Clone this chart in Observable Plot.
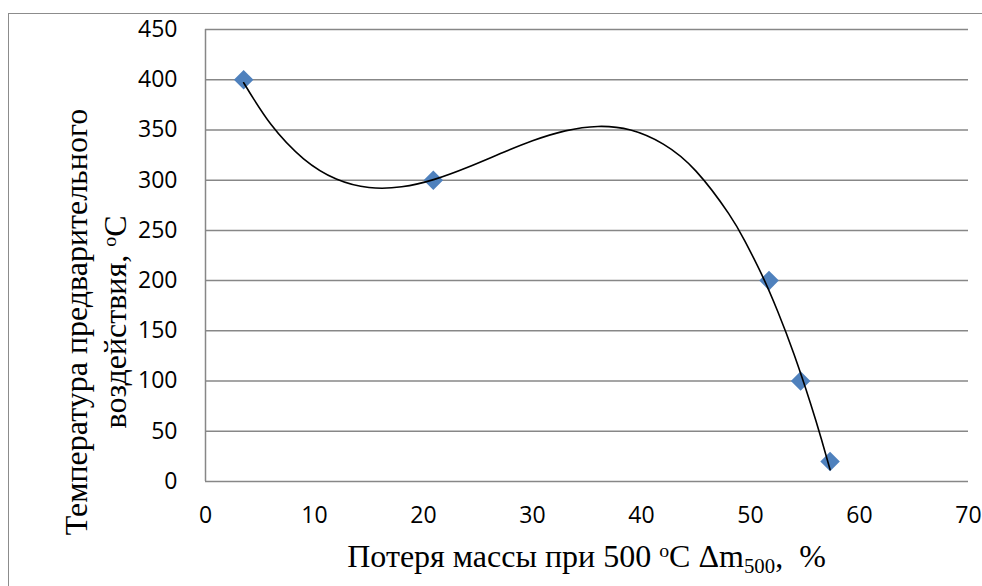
<!DOCTYPE html>
<html>
<head>
<meta charset="utf-8">
<script src="https://cdn.jsdelivr.net/npm/d3@7"></script>
<script src="https://cdn.jsdelivr.net/npm/@observablehq/plot@0.6"></script>
<style>
  html, body { margin: 0; padding: 0; background: #fff; overflow: hidden; }
  #wrap { position: relative; width: 982px; height: 586px; overflow: hidden; }
  #border { position: absolute; left: 8px; top: 13px; width: 1000px; height: 600px; border: 1.5px solid #8c8c8c; box-sizing: border-box; }
  #chart { position: absolute; left: 0; top: 0; }
  .ttl { position: absolute; font-family: "Liberation Serif", "Times New Roman", serif; font-size: 32px; line-height: 39px; color: #000; white-space: pre; text-align: center; }
  .ttl sup { font-size: 0.62em; vertical-align: 0.5em; line-height: 0; }
  .ttl sub { font-size: 0.65em; vertical-align: -0.3em; line-height: 0; }
  #ytitle { width: 500px; height: 78px; left: -154px; top: 283px; transform: rotate(-90deg); }
  #xtitle { left: 205px; width: 763px; top: 537px; height: 39px; }
</style>
</head>
<body>
<div id="wrap">
  <div id="border"></div>
  <div id="chart"></div>
  <div class="ttl" id="ytitle">Температура предварительного
воздействия, <sup>o</sup>C</div>
  <div class="ttl" id="xtitle">Потеря массы при 500 <sup>o</sup>C Δm<sub>500</sub>,  %</div>
</div>
<script>
// measured points
const massLoss = [3.5, 20.9, 51.7, 54.6, 57.3];
const temperature = [400, 300, 200, 100, 20];

// trend curve (polynomial trendline)
const trendX = [3.5, 6, 9, 12, 15, 18, 21, 24, 27, 30, 33, 36, 39, 42, 45, 48, 49.5, 51, 52.5, 54, 55.5, 56.5, 57.3];
const trendY = [397, 355.6, 321.3, 301.2, 292.7, 293.4, 300.8, 312.6, 326.2, 339.2, 349.1, 353.5, 349.9, 335.9, 309.0, 266.7, 239.1, 206.7, 169.2, 126.4, 77.9, 42.3, 11.8];

const xTicks = [0, 10, 20, 30, 40, 50, 60, 70];
const yTicks = [0, 50, 100, 150, 200, 250, 300, 350, 400, 450];

const points = massLoss.map((x, i) => ({x, y: temperature[i]}));
const trend = trendX.map((x, i) => ({x, y: trendY[i]}));

const tickFont = {fontFamily: "'Open Sans', sans-serif", fontSize: 23, fill: "#000"};

const plot = Plot.plot({
  width: 982,
  height: 586,
  marginLeft: 205,
  marginRight: 14,
  marginTop: 29,
  marginBottom: 105,
  style: {background: "transparent", fontFamily: "'Open Sans', sans-serif", fontSize: "23px", color: "#000"},
  x: {domain: [0, 70], ticks: xTicks, label: null},
  y: {domain: [0, 450], ticks: yTicks, label: null},
  marks: [
    Plot.ruleY(yTicks, {stroke: "#878787", strokeWidth: 1.5}),
    Plot.ruleX([0], {stroke: "#878787", strokeWidth: 1.5}),
    Plot.axisX({ticks: xTicks, tickSize: 0, tickPadding: 25, label: null, ...tickFont}),
    Plot.axisY({ticks: yTicks, tickSize: 0, tickPadding: 28, label: null, ...tickFont}),
    Plot.dot(points, {x: "x", y: "y", symbol: "diamond2", r: 8.8, fill: "#4F81BD", stroke: "none"}),
    Plot.line(trend, {x: "x", y: "y", curve: "natural", stroke: "#000", strokeWidth: 1.6})
  ]
});
document.getElementById("chart").appendChild(plot);
</script>
</body>
</html>
